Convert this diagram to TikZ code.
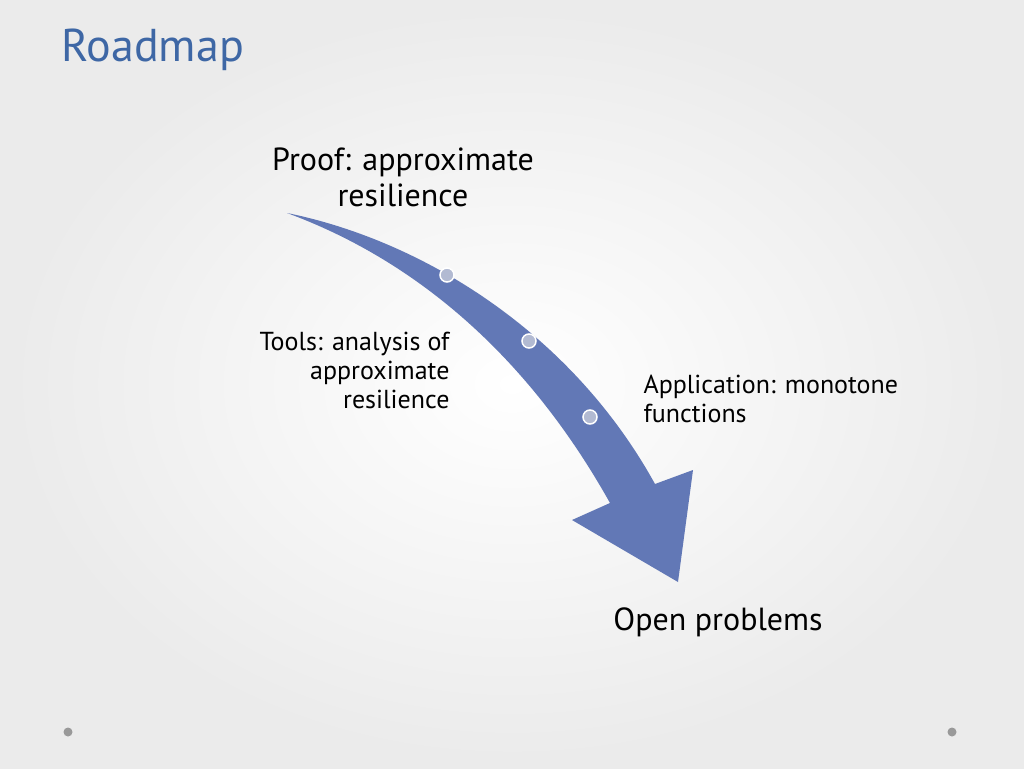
\documentclass[tikz,border=0pt]{standalone}
\usepackage{fontspec}
\setmainfont{PT Sans}
\usetikzlibrary{positioning}
\definecolor{arrowBlue}{RGB}{98,120,182}
\definecolor{titleBlue}{RGB}{62,103,165}
\definecolor{dotFill}{RGB}{178,186,210}
\tikzset{
  bigLabel/.style = {font=\fontsize{32}{36}\selectfont, align=center},
  smallLabel/.style = {font=\fontsize{26}{29}\selectfont},
  stepDot/.style = {circle, minimum size=14pt, inner sep=0pt, fill=dotFill, draw=white, line width=1.5pt},
  cornerDot/.style = {circle, minimum size=9pt, inner sep=0pt, fill=gray!80}
}
\begin{document}
\begin{tikzpicture}[x=1pt, y=-1pt]
\shade[inner color=white, outer color=black!8] (0,0) rectangle (1024,768);
\useasboundingbox (0,0) rectangle (1024,768);
\node[anchor=west, text=titleBlue, font=\fontsize{46}{50}\selectfont] (title) at (58,50) {Roadmap};
% the arrow
\fill[arrowBlue] (287,213) .. controls (420,240) and (570,330) .. (655,484)
  -- (693,470) -- (678,582) -- (572,520) -- (610,503)
  .. controls (530,360) and (420,262) .. (287,213) -- cycle;
\node[stepDot] (d1) at (447,275) {};
\node[stepDot] (d2) at (529,341) {};
\node[stepDot] (d3) at (590,417) {};
\node[bigLabel] (proof) at (403,177) {Proof: approximate\\resilience};
\node[smallLabel, align=right, anchor=east] (tools) at (453,370) {Tools: analysis of\\approximate\\resilience};
\node[smallLabel, align=left, anchor=west] (appl) at (640,399) {Application: monotone\\functions};
\node[bigLabel] (open) at (718,622) {Open problems};
\node[cornerDot] (c1) at (68,732) {};
\node[cornerDot] (c2) at (952,732) {};
\end{tikzpicture}
\end{document}
